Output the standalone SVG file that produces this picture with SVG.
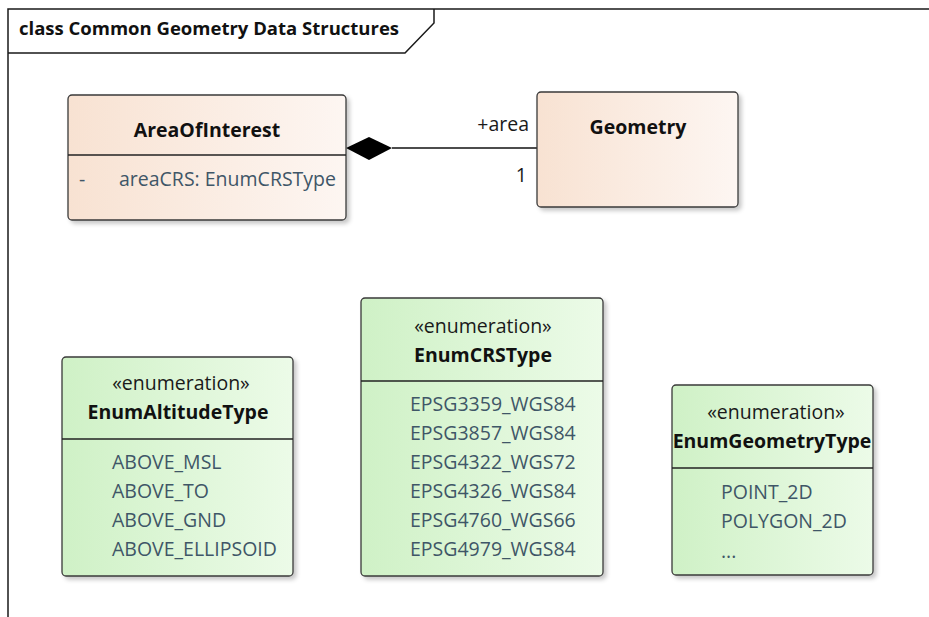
<svg xmlns="http://www.w3.org/2000/svg" width="929" height="617" viewBox="0 0 929 617">
  <style>
    text { font-family: "Open Sans", "Noto Sans", "Liberation Sans", sans-serif; font-size: 19.5px; }
    .frame { fill: none; stroke: #1a1a1a; stroke-width: 1.5; }
    .title { font-weight: bold; fill: #111; font-size: 18.5px; }
    .box { stroke: #3a3a3a; stroke-width: 1.3; filter: url(#shadow); }
    .sep { stroke: #222; stroke-width: 1.3; }
    .name { font-weight: bold; fill: #111; text-anchor: middle; }
    .stereo { fill: #1a1a1a; text-anchor: middle; }
    .item { fill: #3f5667; }
    .role { fill: #1a1a1a; text-anchor: end; }
    .line { stroke: #111; stroke-width: 1.3; fill: none; }
  </style>
  <defs>
    <linearGradient id="peach" x1="0" y1="0" x2="1" y2="0">
      <stop offset="0" stop-color="#f8e2d2"/>
      <stop offset="1" stop-color="#fdf6f2"/>
    </linearGradient>
    <linearGradient id="green" x1="0" y1="0" x2="1" y2="0">
      <stop offset="0" stop-color="#cff1c6"/>
      <stop offset="1" stop-color="#ecfbe8"/>
    </linearGradient>
    <filter id="shadow" x="-10%" y="-10%" width="125%" height="125%">
      <feDropShadow dx="3" dy="3" stdDeviation="2" flood-color="#000" flood-opacity="0.22"/>
    </filter>
  </defs>

  <rect width="929" height="617" fill="#fff"/>

  <!-- package frame with name tab -->
  <g id="frame">
    <path class="frame" d="M8,617 V9 H929"/>
    <path class="frame" d="M434,9 V23 L405,53 H8"/>
    <text class="title" x="19" y="35">class Common Geometry Data Structures</text>
  </g>

  <!-- composition: AreaOfInterest owns Geometry -->
  <g id="connectors">
    <line class="line" x1="392" y1="148" x2="537" y2="148"/>
    <polygon points="346,148 369,137 392,148 369,160" fill="#000"/>
    <text class="role" x="529" y="131">+area</text>
    <text class="role" x="527" y="182">1</text>
  </g>

  <g id="AreaOfInterest">
    <rect class="box" x="68" y="95" width="278" height="125" rx="4" fill="url(#peach)"/>
    <line class="sep" x1="68" y1="155" x2="346" y2="155"/>
    <text class="name" x="207" y="137">AreaOfInterest</text>
    <text class="item" x="79" y="186">-</text>
    <text class="item" x="119" y="186">areaCRS: EnumCRSType</text>
  </g>

  <g id="Geometry">
    <rect class="box" x="537" y="92" width="201" height="115" rx="4" fill="url(#peach)"/>
    <text class="name" x="638" y="134">Geometry</text>
  </g>

  <g id="EnumAltitudeType">
    <rect class="box" x="62" y="357" width="231" height="219" rx="4" fill="url(#green)"/>
    <line class="sep" x1="62" y1="439" x2="293" y2="439"/>
    <text class="stereo" x="181" y="390">«enumeration»</text>
    <text class="name" x="178" y="419">EnumAltitudeType</text>
    <text class="item" x="112" y="469">ABOVE_MSL</text>
    <text class="item" x="112" y="498">ABOVE_TO</text>
    <text class="item" x="112" y="527">ABOVE_GND</text>
    <text class="item" x="112" y="556">ABOVE_ELLIPSOID</text>
  </g>

  <g id="EnumCRSType">
    <rect class="box" x="361" y="298" width="242" height="278" rx="4" fill="url(#green)"/>
    <line class="sep" x1="361" y1="381" x2="603" y2="381"/>
    <text class="stereo" x="483" y="333">«enumeration»</text>
    <text class="name" x="483" y="362">EnumCRSType</text>
    <text class="item" x="410" y="411">EPSG3359_WGS84</text>
    <text class="item" x="410" y="440">EPSG3857_WGS84</text>
    <text class="item" x="410" y="469">EPSG4322_WGS72</text>
    <text class="item" x="410" y="498">EPSG4326_WGS84</text>
    <text class="item" x="410" y="527">EPSG4760_WGS66</text>
    <text class="item" x="410" y="556">EPSG4979_WGS84</text>
  </g>

  <g id="EnumGeometryType">
    <rect class="box" x="672" y="385" width="201" height="190" rx="4" fill="url(#green)"/>
    <line class="sep" x1="672" y1="468" x2="873" y2="468"/>
    <text class="stereo" x="776" y="419">«enumeration»</text>
    <text class="name" x="772" y="448">EnumGeometryType</text>
    <text class="item" x="721" y="499">POINT_2D</text>
    <text class="item" x="721" y="528">POLYGON_2D</text>
    <text class="item" x="721" y="558">...</text>
  </g>
</svg>
